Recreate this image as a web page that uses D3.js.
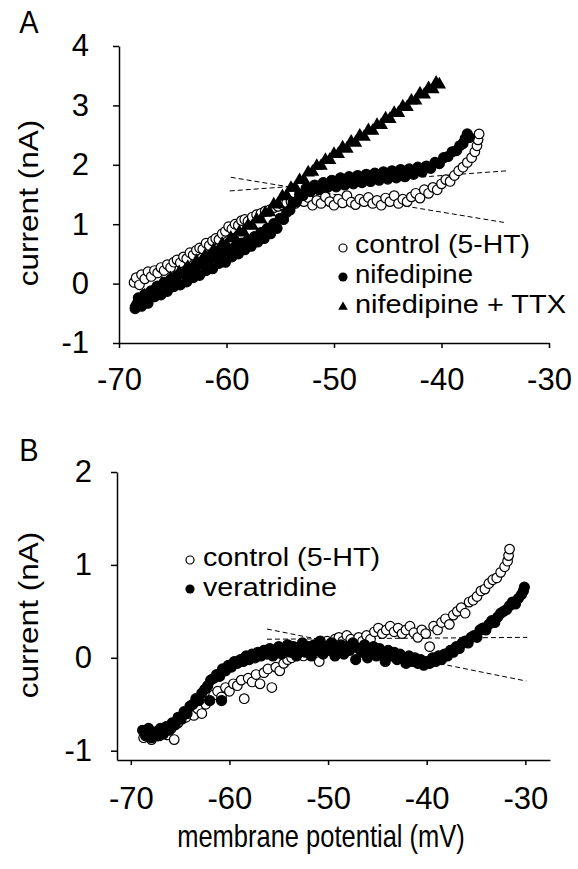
<!DOCTYPE html>
<html lang="en">
<head>
    <meta charset="UTF-8">
    <title>I-V curves, panels A and B</title>
    <script src="https://cdn.jsdelivr.net/npm/d3@7/dist/d3.min.js"></script>
    <style>
        body { margin: 0; background: white; }
        svg { background: white; font-family: 'Liberation Sans', Arial, sans-serif; }
        .axis path, .axis line { stroke: black; stroke-width: 1.5; }
        .axis text { font-size: 31px; fill: black; font-family: 'Liberation Sans', Arial, sans-serif; }
    </style>
</head>
<body>
<div id="chart"></div>
<script>
    // ---------- data: panel A ----------
    var xTicks = [-70, -60, -50, -40, -30];
    var yTicksA = [-1, 0, 1, 2, 3, 4];
    var yTicksB = [-1, 0, 1, 2];

    var legendA = ['control (5-HT)', 'nifedipine', 'nifedipine + TTX'];
    var legendB = ['control (5-HT)', 'veratridine'];

    var ctrlAx = [-68.6,-68.4,-68.1,-67.9,-67.6,-67.3,-67.0,-66.7,-66.4,-66.1,-65.8,-65.5,-65.2,-64.9,-64.6,-64.3,-64.0,-63.7,-63.4,-63.1,-62.8,-62.5,-62.2,-61.9,-61.6,-61.3,-61.0,-60.7,-60.4,-60.1,-59.8,-59.5,-59.2,-58.9,-58.6,-58.3,-58.0,-57.6,-57.2,-56.8,-56.4,-56.0,-55.6,-55.2,-54.8,-54.4,-54.0,-53.6,-53.2,-52.8,-52.4,-52.0,-51.6,-51.2,-50.8,-50.4,-50.0,-49.6,-49.2,-48.8,-48.4,-48.0,-47.6,-47.2,-46.8,-46.4,-46.0,-45.6,-45.2,-44.8,-44.4,-44.0,-43.6,-43.2,-42.8,-42.4,-42.0,-41.6,-41.2,-40.8,-40.4,-40.0,-39.6,-39.2,-38.8,-38.4,-38.0,-37.6,-37.2,-36.9,-36.7,-36.6,-36.5];
    var ctrlAy = [0.02,0.10,-0.02,0.15,0.08,0.20,0.12,0.22,0.18,0.27,0.22,0.32,0.27,0.36,0.40,0.35,0.45,0.42,0.52,0.48,0.56,0.60,0.58,0.68,0.64,0.72,0.76,0.74,0.84,0.88,0.96,0.92,1.00,0.98,1.06,1.08,1.05,1.12,1.16,1.18,1.22,1.24,1.28,1.30,1.33,1.36,1.38,1.35,1.42,1.38,1.45,1.32,1.40,1.35,1.46,1.38,1.32,1.42,1.36,1.48,1.37,1.33,1.42,1.38,1.45,1.35,1.40,1.32,1.44,1.38,1.48,1.35,1.42,1.38,1.46,1.52,1.44,1.58,1.52,1.62,1.58,1.68,1.75,1.72,1.82,1.90,1.96,2.04,2.12,2.22,2.32,2.42,2.52];

    var nifAx = [-68.5,-68.2,-67.9,-67.6,-67.3,-67.0,-66.7,-66.4,-66.1,-65.8,-65.5,-65.2,-64.9,-64.6,-64.3,-64.0,-63.7,-63.4,-63.1,-62.8,-62.5,-62.2,-61.9,-61.6,-61.3,-61.0,-60.7,-60.4,-60.1,-59.8,-59.5,-59.2,-58.9,-58.6,-58.3,-58.0,-57.7,-57.4,-57.1,-56.8,-56.5,-56.2,-55.9,-55.6,-55.3,-55.0,-54.7,-54.4,-54.1,-53.8,-53.5,-53.2,-52.9,-52.6,-52.2,-51.8,-51.4,-51.0,-50.6,-50.2,-49.8,-49.4,-49.0,-48.6,-48.2,-47.8,-47.4,-47.0,-46.6,-46.2,-45.8,-45.4,-45.0,-44.6,-44.2,-43.8,-43.4,-43.0,-42.6,-42.2,-41.8,-41.4,-41.0,-40.6,-40.2,-39.8,-39.4,-39.0,-38.6,-38.3,-38.0,-37.8,-37.6,-37.4];
    var nifAy = [-0.42,-0.24,-0.38,-0.18,-0.33,-0.12,-0.22,-0.04,-0.19,0.02,-0.13,0.07,-0.05,0.13,-0.02,0.17,0.03,0.23,0.10,0.29,0.14,0.34,0.22,0.40,0.25,0.45,0.34,0.51,0.36,0.57,0.45,0.62,0.50,0.68,0.57,0.73,0.63,0.79,0.70,0.86,0.76,0.93,0.84,1.01,0.93,1.10,1.08,1.20,1.24,1.36,1.38,1.50,1.48,1.60,1.55,1.66,1.58,1.70,1.62,1.74,1.63,1.78,1.66,1.80,1.68,1.82,1.70,1.84,1.72,1.86,1.74,1.88,1.76,1.90,1.78,1.92,1.80,1.93,1.84,1.96,1.88,1.98,1.94,2.04,2.02,2.12,2.14,2.22,2.24,2.32,2.36,2.44,2.52,2.46];

    var ttxAx = [-68.4,-68.0,-67.6,-67.2,-66.8,-66.4,-66.0,-65.6,-65.2,-64.8,-64.4,-64.0,-63.6,-63.2,-62.8,-62.4,-62.0,-61.6,-61.2,-60.8,-60.4,-60.0,-59.6,-59.2,-58.8,-58.4,-58.0,-57.6,-57.2,-56.8,-56.4,-56.0,-55.6,-55.2,-54.8,-54.4,-54.0,-53.6,-53.2,-52.8,-52.4,-52.0,-51.6,-51.2,-50.8,-50.4,-50.0,-49.6,-49.2,-48.8,-48.4,-48.0,-47.6,-47.2,-46.8,-46.4,-46.0,-45.6,-45.2,-44.8,-44.4,-44.0,-43.6,-43.2,-42.8,-42.4,-42.0,-41.6,-41.2,-40.8,-40.5,-40.2];
    var ttxAy = [-0.31,-0.31,-0.20,-0.22,-0.10,-0.12,0.00,-0.02,0.09,0.07,0.19,0.16,0.28,0.26,0.38,0.36,0.47,0.46,0.57,0.55,0.67,0.65,0.77,0.76,0.87,0.86,0.98,0.97,1.08,1.08,1.19,1.20,1.33,1.34,1.47,1.48,1.61,1.61,1.74,1.74,1.87,1.88,1.98,1.98,2.08,2.08,2.18,2.18,2.29,2.27,2.39,2.37,2.49,2.47,2.58,2.57,2.67,2.67,2.78,2.77,2.87,2.87,2.98,2.97,3.08,3.08,3.20,3.18,3.29,3.27,3.38,3.35];

    // dashed guide lines, A: [x1, y1, x2, y2]
    var dashA1 = [-59.7, 1.56, -33.8, 1.90];
    var dashA2 = [-59.6, 1.79, -34.2, 1.03];

    // ---------- data: panel B ----------
    var ctrlBx = [-68.7,-68.3,-67.9,-67.5,-67.1,-66.7,-66.3,-65.9,-65.6,-65.2,-64.8,-64.4,-64.0,-63.6,-63.2,-62.8,-62.4,-62.0,-61.6,-61.2,-60.8,-60.4,-60.0,-59.6,-59.2,-58.8,-58.5,-58.1,-57.7,-57.3,-56.9,-56.5,-56.1,-55.7,-55.3,-54.9,-54.5,-54.1,-53.7,-53.3,-52.9,-52.5,-52.1,-51.7,-51.3,-50.9,-50.5,-50.1,-49.7,-49.3,-48.9,-48.5,-48.1,-47.7,-47.3,-46.9,-46.5,-46.1,-45.7,-45.3,-44.9,-44.5,-44.1,-43.7,-43.3,-42.9,-42.5,-42.1,-41.7,-41.3,-40.9,-40.5,-40.1,-39.7,-39.3,-38.9,-38.5,-38.1,-37.7,-37.3,-36.9,-36.5,-36.1,-35.7,-35.3,-34.9,-34.5,-34.1,-33.7,-33.3,-32.9,-32.5,-32.1,-31.8,-31.7,-31.6];
    var ctrlBy = [-0.86,-0.82,-0.88,-0.80,-0.84,-0.78,-0.83,-0.76,-0.88,-0.70,-0.66,-0.64,-0.58,-0.62,-0.55,-0.60,-0.50,-0.46,-0.40,-0.36,-0.42,-0.32,-0.36,-0.28,-0.30,-0.24,-0.44,-0.22,-0.26,-0.18,-0.28,-0.16,-0.12,-0.32,-0.10,-0.14,-0.06,-0.02,0.00,0.04,0.06,0.02,0.10,0.12,0.08,-0.04,0.14,0.18,0.16,0.20,0.22,0.18,0.24,0.20,0.16,0.22,0.18,0.24,0.20,0.28,0.32,0.26,0.30,0.34,0.28,0.32,0.26,0.30,0.34,0.27,0.22,0.30,0.26,0.12,0.34,0.30,0.38,0.42,0.36,0.46,0.50,0.54,0.48,0.60,0.62,0.66,0.72,0.74,0.80,0.84,0.86,0.92,0.98,1.04,1.10,1.17];

    var veraBx = [-68.8,-68.5,-68.2,-67.9,-67.6,-67.3,-67.0,-66.7,-66.4,-66.1,-65.8,-65.5,-65.2,-64.9,-64.6,-64.3,-64.0,-63.7,-63.4,-63.1,-62.8,-62.5,-62.2,-62.0,-61.9,-61.6,-61.3,-61.0,-60.8,-60.7,-60.4,-60.1,-59.8,-59.5,-59.2,-58.9,-58.6,-58.3,-58.0,-57.7,-57.4,-57.1,-56.8,-56.5,-56.2,-55.9,-55.6,-55.3,-55.0,-54.7,-54.4,-54.1,-53.8,-53.5,-53.2,-52.9,-52.6,-52.3,-52.0,-51.7,-51.4,-51.1,-50.8,-50.5,-50.2,-49.9,-49.6,-49.3,-49.0,-48.7,-48.4,-48.1,-47.8,-47.5,-47.2,-46.9,-46.6,-46.3,-46.0,-45.7,-45.4,-45.1,-44.8,-44.5,-44.2,-43.9,-43.6,-43.3,-43.0,-42.7,-42.4,-42.1,-41.8,-41.5,-41.2,-40.9,-40.6,-40.3,-40.0,-39.7,-39.4,-39.1,-38.8,-38.5,-38.2,-37.9,-37.6,-37.3,-37.0,-36.7,-36.4,-36.1,-35.8,-35.5,-35.2,-34.9,-34.6,-34.3,-34.0,-33.7,-33.4,-33.1,-32.8,-32.5,-32.2,-31.9,-31.6,-31.3,-31.0,-30.7,-30.4,-30.2,-30.1];
    var veraBy = [-0.78,-0.84,-0.76,-0.86,-0.80,-0.84,-0.76,-0.82,-0.74,-0.78,-0.70,-0.72,-0.64,-0.66,-0.58,-0.60,-0.52,-0.50,-0.44,-0.46,-0.38,-0.34,-0.30,-0.46,-0.24,-0.22,-0.18,-0.20,-0.46,-0.12,-0.14,-0.08,-0.10,-0.04,-0.06,-0.02,-0.04,0.02,-0.02,0.04,0.00,0.06,0.02,0.08,0.04,0.10,0.02,0.08,0.12,0.04,0.10,0.14,0.06,0.12,0.02,0.10,0.16,0.06,0.12,0.02,0.14,0.08,0.18,0.04,0.12,0.08,0.16,0.02,0.10,0.14,0.04,0.12,0.08,0.16,-0.02,0.10,0.06,0.14,0.00,0.08,0.12,0.02,0.10,0.04,-0.04,0.08,0.02,0.06,-0.02,0.04,0.00,-0.06,0.02,-0.04,0.00,-0.06,-0.02,-0.08,-0.04,-0.06,0.00,-0.04,0.02,-0.02,0.04,0.02,0.08,0.06,0.12,0.10,0.16,0.18,0.16,0.22,0.24,0.22,0.30,0.32,0.30,0.36,0.40,0.38,0.44,0.48,0.50,0.52,0.56,0.60,0.58,0.64,0.68,0.72,0.76];

    var dashB1 = [-56.2, 0.20, -29.8, 0.22];
    var dashB2 = [-56.2, 0.31, -29.9, -0.25];

    // ---------- layout ----------
    var width = 578, height = 869;
    var font = "'Liberation Sans', Arial, sans-serif";

    var svg = d3.select('#chart').append('svg')
        .attr('width', width)
        .attr('height', height);

    var xA = d3.scaleLinear().domain([-70, -30]).range([119, 549]);
    var yA = d3.scaleLinear().domain([-1, 4]).range([343, 46]);
    var xB = d3.scaleLinear().domain([-71.4, -27.5]).range([117, 550]);
    var yB = d3.scaleLinear().domain([-1.1, 2]).range([760, 472]);

    // stretched text helper (figure text is taller than it is wide)
    function label(x, y, txt, size, sy, anchor, rot) {
        return svg.append('text')
            .attr('transform', 'translate(' + x + ',' + y + ') scale(1,' + sy + ')' + (rot ? ' rotate(' + rot + ')' : ''))
            .attr('text-anchor', anchor)
            .style('font-family', font)
            .style('font-size', size + 'px')
            .text(txt);
    }

    // legend lines, each squeezed to the width it has in the figure
    function legendText(x, rows, lines, widths, size) {
        lines.forEach(function(s, i) {
            svg.append('text')
                .attr('x', x)
                .attr('y', rows[i])
                .attr('textLength', widths[i])
                .attr('lengthAdjust', 'spacingAndGlyphs')
                .style('font-family', font)
                .style('font-size', size + 'px')
                .text(s);
        });
    }

    function drawAxes(x, y, yTicks, xPad, yPad) {
        svg.append('g')
            .attr('class', 'axis')
            .attr('transform', 'translate(0,' + y.range()[0] + ')')
            .call(d3.axisBottom(x).tickValues(xTicks).tickSize(5).tickSizeOuter(0).tickPadding(xPad)
                .tickFormat(d3.format('d')));
        svg.append('g')
            .attr('class', 'axis')
            .attr('transform', 'translate(' + x.range()[0] + ',0)')
            .call(d3.axisLeft(y).tickValues(yTicks).tickSize(6).tickSizeOuter(0).tickPadding(yPad)
                .tickFormat(d3.format('d')));
        // plain hyphen for minus like the original
        svg.selectAll('.axis text').text(function() { return d3.select(this).text().replace('\u2212', '-'); });
    }

    function dashed(x, y, seg) {
        svg.append('line')
            .attr('x1', x(seg[0])).attr('y1', y(seg[1]))
            .attr('x2', x(seg[2])).attr('y2', y(seg[3]))
            .attr('stroke', 'black')
            .attr('stroke-width', 1)
            .attr('stroke-dasharray', '5,3');
    }

    function circles(x, y, xs, ys, filled, r) {
        svg.append('g').selectAll('circle')
            .data(d3.zip(xs, ys))
            .enter().append('circle')
            .attr('cx', d => x(d[0]))
            .attr('cy', d => y(d[1]))
            .attr('r', r)
            .attr('fill', filled ? 'black' : 'white')
            .attr('stroke', 'black')
            .attr('stroke-width', 1.2);
    }

    function triangles(x, y, xs, ys, size) {
        svg.append('g').selectAll('path')
            .data(d3.zip(xs, ys))
            .enter().append('path')
            .attr('d', d3.symbol().type(d3.symbolTriangle).size(size))
            .attr('transform', d => 'translate(' + x(d[0]) + ',' + y(d[1]) + ')')
            .attr('fill', 'black');
    }

    // ---------- panel A ----------
    drawAxes(xA, yA, yTicksA, 20, 24);
    dashed(xA, yA, dashA1);
    dashed(xA, yA, dashA2);
    circles(xA, yA, ctrlAx, ctrlAy, false, 4.8);
    circles(xA, yA, nifAx, nifAy, true, 5);
    triangles(xA, yA, ttxAx, ttxAy, 78);

    label(29, 33, 'A', 29, 1.05, 'middle');
    label(38, 203, 'current (nA)', 27, 1.17, 'middle', -90);

    // legend A
    var legARows = [253, 283, 313];
    svg.append('circle').attr('cx', 343).attr('cy', legARows[0] - 5).attr('r', 4)
        .attr('fill', 'white').attr('stroke', 'black').attr('stroke-width', 1.2);
    svg.append('circle').attr('cx', 343).attr('cy', legARows[1] - 6).attr('r', 4.6).attr('fill', 'black');
    svg.append('path').attr('d', d3.symbol().type(d3.symbolTriangle).size(40))
        .attr('transform', 'translate(343,' + (legARows[2] - 6) + ')').attr('fill', 'black');
    legendText(355, legARows, legendA, [175, 118, 211], 26.5);

    // ---------- panel B ----------
    drawAxes(xB, yB, yTicksB, 22, 19);
    dashed(xB, yB, dashB1);
    dashed(xB, yB, dashB2);
    circles(xB, yB, ctrlBx, ctrlBy, false, 4.8);
    circles(xB, yB, veraBx, veraBy, true, 5);

    label(29, 461, 'B', 29, 1.05, 'middle');
    label(38, 615, 'current (nA)', 27, 1.17, 'middle', -90);

    var legBRows = [566, 596];
    svg.append('circle').attr('cx', 190).attr('cy', legBRows[0] - 6).attr('r', 4)
        .attr('fill', 'white').attr('stroke', 'black').attr('stroke-width', 1.2);
    svg.append('circle').attr('cx', 190).attr('cy', legBRows[1] - 7).attr('r', 4.6).attr('fill', 'black');
    legendText(203, legBRows, legendB, [177, 134], 26.5);

    label(321, 847, 'membrane potential (mV)', 25.5, 1.22, 'middle');
</script>
</body>
</html>
